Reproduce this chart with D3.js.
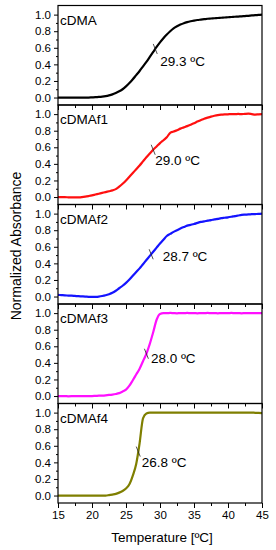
<!DOCTYPE html>
<html>
<head>
<meta charset="utf-8">
<script src="https://cdn.jsdelivr.net/npm/d3@7"></script>
<style>
  html, body { margin: 0; padding: 0; background: #fff; }
  svg { display: block; font-family: Arial, "Liberation Sans", Helvetica, sans-serif; }
</style>
</head>
<body>
<svg id="chart" width="276" height="550"></svg>
<script>
// ---------- data ----------
const temps = [15,15.5,16,16.5,17,17.5,18,18.5,19,19.5,
  20,20.5,21,21.5,22,22.5,23,23.5,24,24.5,
  25,25.5,26,26.5,27,27.5,28,28.5,29,29.5,
  30,30.5,31,31.5,32,32.5,33,33.5,34,34.5,
  35,35.5,36,36.5,37,37.5,38,38.5,39,39.5,
  40,40.5,41,41.5,42,42.5,43,43.5,44,44.5,
  45];

const panelNames = ["cDMA", "cDMAf1", "cDMAf2", "cDMAf3", "cDMAf4"];

const cDMA = [0,0,0,0,0,0,0,0,0,0,
  0.002,0.004,0.007,0.011,0.017,0.026,0.038,0.055,0.075,0.1,
  0.135,0.175,0.22,0.27,0.32,0.375,0.43,0.49,0.55,0.61,
  0.665,0.715,0.76,0.8,0.835,0.86,0.88,0.897,0.91,0.92,
  0.928,0.935,0.94,0.945,0.95,0.953,0.956,0.959,0.962,0.965,
  0.968,0.971,0.974,0.977,0.98,0.983,0.986,0.99,0.993,0.997,
  1.0];

const cDMAf1 = [0,0,-0.002,-0.003,-0.004,-0.004,-0.003,0,0.005,0.012,
  0.02,0.03,0.04,0.05,0.06,0.07,0.08,0.095,0.125,0.16,
  0.2,0.245,0.29,0.335,0.38,0.43,0.48,0.525,0.57,0.61,
  0.65,0.685,0.72,0.775,0.79,0.805,0.825,0.84,0.855,0.872,
  0.89,0.91,0.928,0.945,0.958,0.97,0.98,0.988,0.993,0.996,
  0.998,1.0,1.0,1.002,1.0,1.003,1.005,1.0,0.995,0.998,
  1.0];

const cDMAf2 = [0.02,0.017,0.014,0.012,0.01,0.007,0.004,0.002,0,-0.003,
  -0.004,-0.003,0,0.006,0.015,0.028,0.045,0.07,0.1,0.13,
  0.165,0.205,0.25,0.295,0.34,0.39,0.44,0.49,0.54,0.59,
  0.64,0.685,0.73,0.755,0.78,0.8,0.82,0.838,0.855,0.865,
  0.875,0.888,0.9,0.907,0.915,0.922,0.93,0.937,0.945,0.95,
  0.955,0.962,0.97,0.977,0.985,0.988,0.99,0.993,0.995,0.997,
  1.0];

const cDMAf3 = [0,0,0,-0.003,-0.002,0,0,0,0,0,
  0,0.002,0.004,0.006,0.009,0.013,0.018,0.025,0.035,0.055,
  0.077,0.125,0.19,0.26,0.33,0.42,0.51,0.63,0.77,0.92,
  0.99,1.0,1.0,1.002,1.0,0.998,1.0,1.0,1.002,1.0,
  1.0,0.998,1.0,1.0,1.002,1.0,1.0,0.998,1.0,1.0,
  1.0,1.002,1.0,1.0,0.998,1.0,1.0,1.0,1.0,1.0,
  1.0];

const cDMAf4 = [0,0,0,0,0,0,0,0,0,0,
  0,0,0,0,0,0.005,0.012,0.02,0.035,0.055,
  0.085,0.135,0.24,0.38,0.63,0.93,0.99,1.0,1.0,1.0,
  1.0,1.0,1.0,1.0,1.0,1.0,1.0,1.0,1.0,1.0,
  1.0,1.0,1.0,1.0,1.0,1.0,1.0,1.0,1.0,1.0,
  1.0,1.0,1.0,1.0,1.0,1.0,1.0,1.0,0.998,0.997,
  0.995];

const seriesValues = [cDMA, cDMAf1, cDMAf2, cDMAf3, cDMAf4];
const meltTemps = [29.3, 29.0, 28.7, 28.0, 26.8];
const meltLabels = ["29.3 ºC", "29.0 ºC", "28.7 ºC", "28.0 ºC", "26.8 ºC"];

const xMajorTicks = [15, 20, 25, 30, 35, 40, 45];
const xMinorTicks = [17.5, 22.5, 27.5, 32.5, 37.5, 42.5];
const yMajorTicks = [0, 0.2, 0.4, 0.6, 0.8, 1.0];
const yMinorTicks = [0.1, 0.3, 0.5, 0.7, 0.9];

const xTitle = "Temperature [ºC]";
const yTitle = "Normalized Absorbance";

// ---------- styles / layout ----------
const colors = ["#000000", "#ff1010", "#1414ff", "#ff10ff", "#7f7f00"];
const labelOffsets = [[5, 17], [2, 15], [11.5, 6.5], [4.5, 9.5], [3.5, 15]];

const W = 276, H = 550;
const plotLeft = 58, plotRight = 262;
const panelTop = 5.5, panelH = 99.5;

const svg = d3.select("#chart");

const x = d3.scaleLinear().domain([15, 45]).range([plotLeft, plotRight]);

const line = (y) => d3.line()
  .x(d => x(d[0]))
  .y(d => y(d[1]))
  .curve(d3.curveMonotoneX);

function interp(xs, ys, t) {
  for (let i = 0; i < xs.length - 1; i++) {
    if (t >= xs[i] && t <= xs[i + 1]) {
      const f = (t - xs[i]) / (xs[i + 1] - xs[i]);
      return ys[i] + f * (ys[i + 1] - ys[i]);
    }
  }
  return ys[ys.length - 1];
}

panelNames.forEach((name, i) => {
  const top = panelTop + i * panelH;
  const y = d3.scaleLinear().domain([-0.09, 1.11]).range([top + panelH, top]);
  const g = svg.append("g");

  const clipId = "clip" + i;
  svg.append("clipPath").attr("id", clipId)
    .append("rect").attr("x", plotLeft).attr("y", top).attr("width", plotRight - plotLeft).attr("height", panelH);

  const pts = temps.map((t, k) => [t, seriesValues[i][k]]);
  g.append("path")
    .attr("clip-path", `url(#${clipId})`)
    .attr("d", line(y)(pts))
    .attr("fill", "none")
    .attr("stroke", colors[i])
    .attr("stroke-width", 2.2)
    .attr("stroke-linejoin", "round");

  const yAx = g.append("g").attr("transform", `translate(${plotLeft},0)`)
    .call(d3.axisLeft(y).tickValues(yMajorTicks).tickSize(4).tickPadding(3).tickFormat(d3.format(".1f")));
  yAx.select(".domain").remove();
  yAx.selectAll("text").attr("font-size", 11.5).attr("font-family", "Arial, 'Liberation Sans', sans-serif").attr("fill", "#000");
  yAx.selectAll("line").attr("stroke", "#000");
  const yAxMin = g.append("g").attr("transform", `translate(${plotLeft},0)`)
    .call(d3.axisLeft(y).tickValues(yMinorTicks).tickSize(2).tickFormat(""));
  yAxMin.select(".domain").remove();
  yAxMin.selectAll("line").attr("stroke", "#000");

  const isLast = i === panelNames.length - 1;
  const xAx = g.append("g").attr("transform", `translate(0,${top + panelH})`)
    .call(d3.axisBottom(x).tickValues(xMajorTicks).tickSize(5).tickPadding(3)
      .tickFormat(isLast ? d3.format("d") : ""));
  xAx.select(".domain").remove();
  xAx.selectAll("text").attr("font-size", 11.5).attr("font-family", "Arial, 'Liberation Sans', sans-serif").attr("fill", "#000");
  xAx.selectAll("line").attr("stroke", "#000");
  const xAxMin = g.append("g").attr("transform", `translate(0,${top + panelH})`)
    .call(d3.axisBottom(x).tickValues(xMinorTicks).tickSize(3).tickFormat(""));
  xAxMin.select(".domain").remove();
  xAxMin.selectAll("line").attr("stroke", "#000");

  g.append("rect")
    .attr("x", plotLeft).attr("y", top)
    .attr("width", plotRight - plotLeft).attr("height", panelH)
    .attr("fill", "none").attr("stroke", "#000").attr("stroke-width", 1.2);

  g.append("text")
    .attr("x", plotLeft + 2).attr("y", top + 19)
    .attr("font-size", 13.5).attr("fill", "#000")
    .text(name);

  const tm = meltTemps[i];
  const mx = x(tm), my = y(interp(temps, seriesValues[i], tm));
  g.append("line")
    .attr("x1", mx - 2).attr("y1", my - 5)
    .attr("x2", mx + 2).attr("y2", my + 5)
    .attr("stroke", "#222").attr("stroke-width", 0.8);
  g.append("text")
    .attr("x", mx + labelOffsets[i][0]).attr("y", my + labelOffsets[i][1])
    .attr("font-size", 13.5).attr("fill", "#000")
    .text(meltLabels[i]);
});

svg.append("text")
  .attr("x", (plotLeft + plotRight) / 2 + 2).attr("y", 542)
  .attr("text-anchor", "middle").attr("font-size", 13.5).attr("fill", "#000")
  .text(xTitle);

svg.append("text")
  .attr("transform", `translate(21,246) rotate(-90)`)
  .attr("text-anchor", "middle").attr("font-size", 14).attr("fill", "#000")
  .text(yTitle);
</script>
</body>
</html>
